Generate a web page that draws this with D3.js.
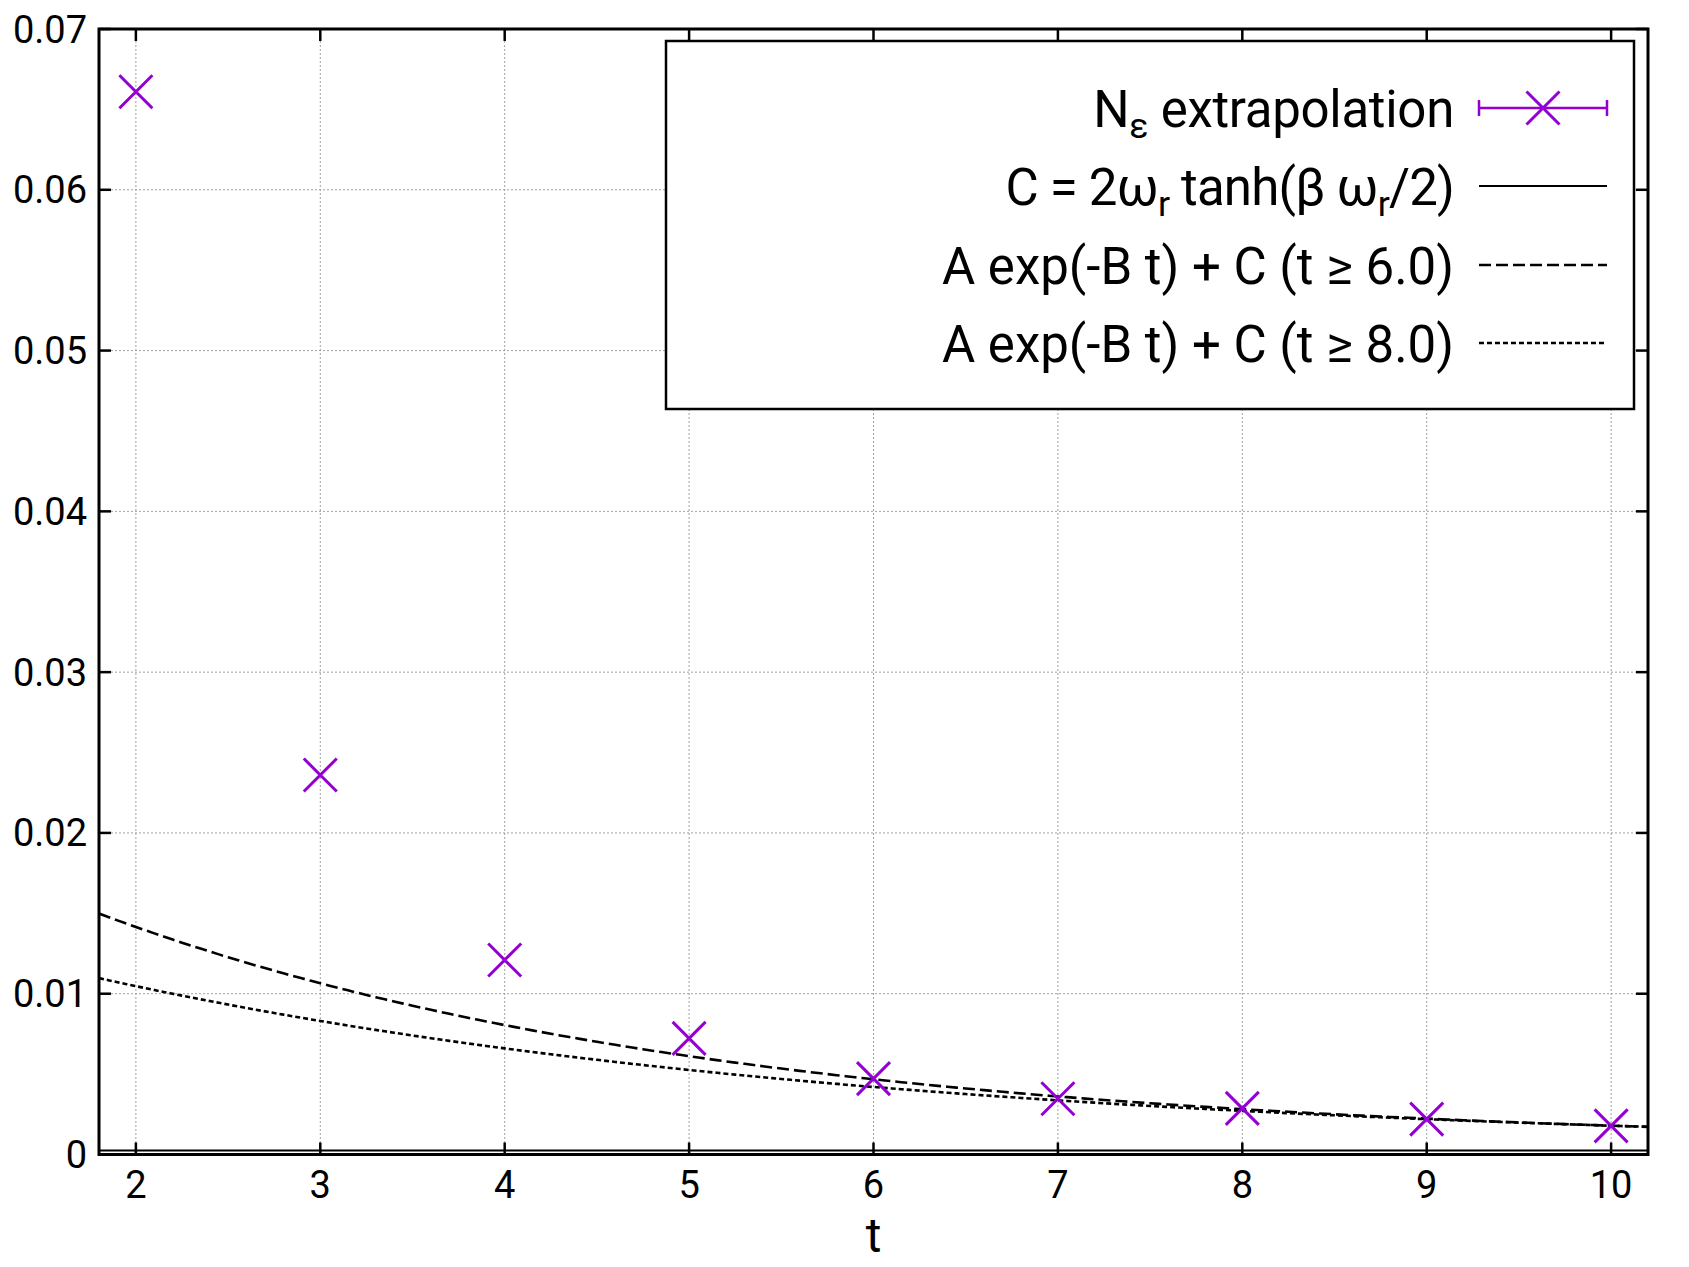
<!DOCTYPE html>
<html>
<head>
<meta charset="utf-8">
<script src="https://cdn.jsdelivr.net/npm/d3@7"></script>
<style>
  body { margin: 0; background: white; }
  svg { display: block; font-family: Roboto, "Noto Sans", sans-serif; }
</style>
</head>
<body>
<svg id="chart" width="1689" height="1267"></svg>
<script>
// data
let tValues = [2, 3, 4, 5, 6, 7, 8, 9, 10];
let nEps = [0.0661, 0.0236, 0.0121, 0.00722, 0.00472, 0.00347, 0.00287, 0.0022, 0.00178];
let xTicks = [2, 3, 4, 5, 6, 7, 8, 9, 10];
let yTicks = [0, 0.01, 0.02, 0.03, 0.04, 0.05, 0.06, 0.07];
let yTickLabels = ["0", "0.01", "0.02", "0.03", "0.04", "0.05", "0.06", "0.07"];
// fit parameters [A, B, C]
let fitT6 = [0.02468, 0.2971, 0.000528];
let fitT8 = [0.01643, 0.2391, 0.000286];
let cTanh = 0.00025;

let purple = "#9400d3";
let black = "#000";

let svg = d3.select("#chart");
let plotLeft = 99, plotRight = 1648, plotTop = 29, plotBottom = 1154.5;

let x = d3.scaleLinear().domain([1.8, 10.2]).range([plotLeft, plotRight]);
let y = d3.scaleLinear().domain([0, 0.07]).range([plotBottom, plotTop]);

svg.append("defs").append("clipPath").attr("id", "plotClip")
  .append("rect")
  .attr("x", plotLeft).attr("y", plotTop)
  .attr("width", plotRight - plotLeft).attr("height", plotBottom - plotTop);

// grid
let grid = svg.append("g");
grid.selectAll(".vgrid")
  .data(xTicks)
  .enter().append("line")
  .attr("x1", d => x(d)).attr("x2", d => x(d))
  .attr("y1", plotTop).attr("y2", plotBottom)
  .style("stroke", "#a0a0a0")
  .style("stroke-width", 1)
  .style("stroke-dasharray", "2,2");
grid.selectAll(".hgrid")
  .data(yTicks.slice(1, -1))
  .enter().append("line")
  .attr("x1", plotLeft).attr("x2", plotRight)
  .attr("y1", d => y(d)).attr("y2", d => y(d))
  .style("stroke", "#a0a0a0")
  .style("stroke-width", 1)
  .style("stroke-dasharray", "2,2");

// fit curves
let plotG = svg.append("g").attr("clip-path", "url(#plotClip)");
let tSamples = d3.range(1.8, 10.2001, 0.05);
let expLine = (p) => d3.line()
  .x(d => x(d))
  .y(d => y(p[0] * Math.exp(-p[1] * d) + p[2]));

plotG.append("line")
  .attr("x1", plotLeft).attr("x2", plotRight)
  .attr("y1", y(cTanh)).attr("y2", y(cTanh))
  .style("stroke", black)
  .style("stroke-width", 2);

plotG.append("path")
  .datum(tSamples)
  .attr("d", expLine(fitT6))
  .style("fill", "none")
  .style("stroke", black)
  .style("stroke-width", 2.6)
  .style("stroke-dasharray", "12,5");

plotG.append("path")
  .datum(tSamples)
  .attr("d", expLine(fitT8))
  .style("fill", "none")
  .style("stroke", black)
  .style("stroke-width", 2.6)
  .style("stroke-dasharray", "5,3");

// data points
let cross = (g, cx, cy, r) => {
  g.append("path")
    .attr("d", "M" + (cx - r) + "," + (cy - r) + "L" + (cx + r) + "," + (cy + r) +
               "M" + (cx - r) + "," + (cy + r) + "L" + (cx + r) + "," + (cy - r))
    .style("stroke", purple)
    .style("stroke-width", 3)
    .style("fill", "none");
};
tValues.forEach((t, i) => cross(svg, x(t), y(nEps[i]), 16.5));

// frame and ticks
let axisG = svg.append("g");
xTicks.forEach(d => {
  axisG.append("line").attr("x1", x(d)).attr("x2", x(d)).attr("y1", plotBottom).attr("y2", plotBottom - 12)
    .style("stroke", black).style("stroke-width", 2.5);
  axisG.append("line").attr("x1", x(d)).attr("x2", x(d)).attr("y1", plotTop).attr("y2", plotTop + 12)
    .style("stroke", black).style("stroke-width", 2.5);
  axisG.append("text")
    .attr("x", x(d)).attr("y", 1198)
    .text(d)
    .style("font-size", "38px")
    .style("text-anchor", "middle");
});
yTicks.forEach((d, i) => {
  axisG.append("line").attr("x1", plotLeft).attr("x2", plotLeft + 12).attr("y1", y(d)).attr("y2", y(d))
    .style("stroke", black).style("stroke-width", 2.5);
  axisG.append("line").attr("x1", plotRight).attr("x2", plotRight - 12).attr("y1", y(d)).attr("y2", y(d))
    .style("stroke", black).style("stroke-width", 2.5);
  axisG.append("text")
    .attr("x", 87).attr("y", y(d) + 13.5)
    .text(yTickLabels[i])
    .style("font-size", "38px")
    .style("text-anchor", "end");
});
axisG.append("rect")
  .attr("x", plotLeft).attr("y", plotTop)
  .attr("width", plotRight - plotLeft).attr("height", plotBottom - plotTop)
  .style("fill", "none")
  .style("stroke", black)
  .style("stroke-width", 3);

svg.append("text")
  .attr("x", (plotLeft + plotRight) / 2).attr("y", 1252)
  .text("t")
  .style("font-size", "48px")
  .style("text-anchor", "middle");

// legend
let legend = svg.append("g");
legend.append("rect")
  .attr("x", 666).attr("y", 41)
  .attr("width", 1634 - 666).attr("height", 409 - 41)
  .style("fill", "white")
  .style("stroke", black)
  .style("stroke-width", 2.5);

let rowY = [108, 186, 265, 343];
let textX = 1454, sx1 = 1479, sx2 = 1607;
let fs = 51;

function legendText(yy, parts, spacing) {
  let t = legend.append("text")
    .attr("x", textX).attr("y", yy + 19)
    .style("font-size", fs + "px")
    .style("letter-spacing", spacing || "0px")
    .style("text-anchor", "end");
  parts.forEach(p => {
    if (p.sub) {
      t.append("tspan").text(p.text).attr("dy", 11).style("font-size", (fs * 0.7) + "px");
    } else {
      t.append("tspan").text(p.text).attr("dy", p.after ? -11 : 0);
    }
  });
}

legendText(rowY[0], [{text: "N"}, {text: "ε", sub: true}, {text: " extrapolation", after: true}], "-0.3px");
legendText(rowY[1], [{text: "C = 2ω"}, {text: "r", sub: true}, {text: " tanh(β ω", after: true},
  {text: "r", sub: true}, {text: "/2)", after: true}], "-0.8px");
legendText(rowY[2], [{text: "A exp(-B t) + C (t ≥ 6.0)"}]);
legendText(rowY[3], [{text: "A exp(-B t) + C (t ≥ 8.0)"}]);

// legend samples
legend.append("line").attr("x1", sx1).attr("x2", sx2).attr("y1", rowY[0]).attr("y2", rowY[0])
  .style("stroke", purple).style("stroke-width", 2.5);
[sx1, sx2].forEach(sx => {
  legend.append("line").attr("x1", sx).attr("x2", sx).attr("y1", rowY[0] - 8).attr("y2", rowY[0] + 8)
    .style("stroke", purple).style("stroke-width", 2.5);
});
cross(legend, (sx1 + sx2) / 2, rowY[0], 16.5);

legend.append("line").attr("x1", sx1).attr("x2", sx2).attr("y1", rowY[1]).attr("y2", rowY[1])
  .style("stroke", black).style("stroke-width", 2);
legend.append("line").attr("x1", sx1).attr("x2", sx2).attr("y1", rowY[2]).attr("y2", rowY[2])
  .style("stroke", black).style("stroke-width", 2.6).style("stroke-dasharray", "12,5");
legend.append("line").attr("x1", sx1).attr("x2", sx2).attr("y1", rowY[3]).attr("y2", rowY[3])
  .style("stroke", black).style("stroke-width", 2.6).style("stroke-dasharray", "5,3");
</script>
</body>
</html>
